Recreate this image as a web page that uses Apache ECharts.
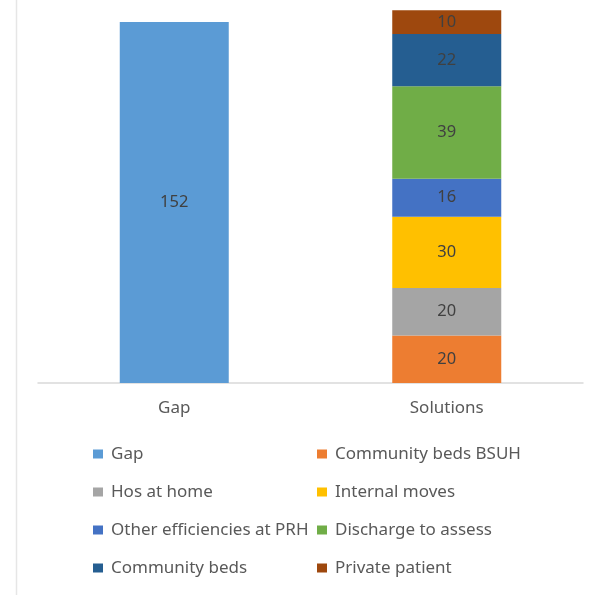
<!DOCTYPE html>
<html><head><meta charset="utf-8">
<script src="https://cdn.jsdelivr.net/npm/echarts@6/dist/echarts.min.js"></script>
<style>html,body{margin:0;padding:0;background:#fff}#c{width:603px;height:595px}</style>
</head><body><div id="c"></div>
<script>
const categories = ['Gap', 'Solutions'];
const seriesNames = ['Gap', 'Community beds BSUH', 'Hos at home', 'Internal moves', 'Other efficiencies at PRH', 'Discharge to assess', 'Community beds', 'Private patient'];
const gapValues = [152, '-'];
const communityBedsBSUH = ['-', 20];
const hosAtHome = ['-', 20];
const internalMoves = ['-', 30];
const otherEfficiencies = ['-', 16];
const dischargeToAssess = ['-', 39];
const communityBeds = ['-', 22];
const privatePatient = ['-', 10];
const colors = ['#5B9BD5', '#ED7D31', '#A5A5A5', '#FFC000', '#4472C4', '#70AD47', '#255E91', '#9E480E'];

const dataSets = [gapValues, communityBedsBSUH, hosAtHome, internalMoves, otherEfficiencies, dischargeToAssess, communityBeds, privatePatient];
const font = 'Noto Sans';
const series = dataSets.map((d, i) => ({
  name: seriesNames[i], type: 'bar', stack: 'all', data: d, barWidth: 109,
  itemStyle: { color: colors[i] },
  label: { show: true, position: 'inside', color: '#404040', fontSize: 16.5, fontFamily: font }
}));
const legendBase = {
  orient: 'vertical', itemWidth: 10, itemHeight: 9, itemGap: 20, icon: 'rect', padding: 0,
  textStyle: { color: '#595959', fontSize: 17, fontFamily: font, lineHeight: 18, padding: [0, 0, 0, 3] },
  selectedMode: false
};
const chart = echarts.init(document.getElementById('c'));
chart.setOption({
  animation: false,
  color: colors,
  grid: { left: 38, right: 20, top: 3, bottom: 212 },
  xAxis: {
    type: 'category', data: categories,
    axisLine: { lineStyle: { color: '#D9D9D9', width: 1.5 } },
    axisTick: { show: false },
    axisLabel: { color: '#595959', fontSize: 17, fontFamily: font, margin: 17 }
  },
  yAxis: { type: 'value', min: 0, max: 160, show: false, splitLine: { show: false } },
  legend: [
    Object.assign({}, legendBase, { left: 93, top: 445, data: [seriesNames[0], seriesNames[2], seriesNames[4], seriesNames[6]] }),
    Object.assign({}, legendBase, { left: 317, top: 445, data: [seriesNames[1], seriesNames[3], seriesNames[5], seriesNames[7]] })
  ],
  graphic: [{ type: 'line', shape: { x1: 16.5, y1: 0, x2: 16.5, y2: 595 }, style: { stroke: '#E6E6E6', lineWidth: 1.5 } }],
  series: series
});
</script></body></html>
